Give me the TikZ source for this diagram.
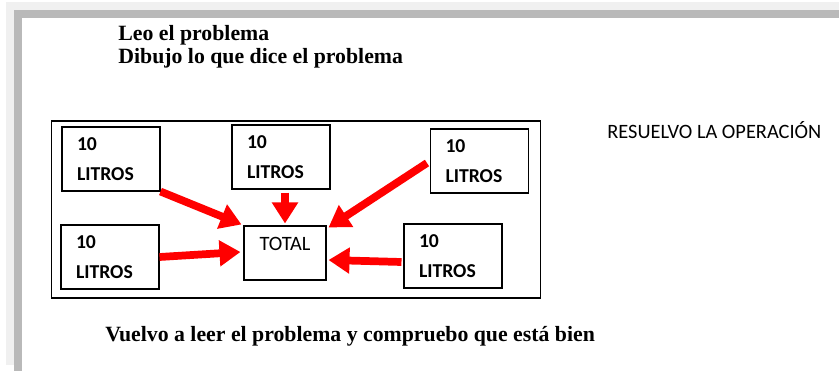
\documentclass[tikz,border=0pt]{standalone}
\usepackage{fontspec}
\setmainfont{Liberation Serif}
\newfontfamily\calibri{Carlito}
\usetikzlibrary{arrows.meta,calc,positioning}
\tikzset{>=stealth}
\tikzstyle{litros} = [draw=black, line width=0.6pt, minimum width=1.96cm,
minimum height=1.28cm, inner xsep=0.3cm, text width=1.36cm, align=left,
font=\calibri\bfseries\fontsize{11.2}{17}\selectfont]
\tikzstyle{arrow} = [draw=red, line width=4.4pt, -{Triangle[width=0.5cm,length=0.42cm]}]
\tikzstyle{texto} = [anchor=base west, inner sep=0pt, font=\bfseries\fontsize{12.4}{14}\selectfont]
\begin{document}
\begin{tikzpicture}[x=0.02cm, y=-0.02cm]
            \useasboundingbox (0,0) rectangle (839,371);
            % hoja de fondo
            \fill[gray!12] (6,2) rectangle (839,365);
            \fill[gray!55] (14,10) rectangle (839,371);
            \fill[white] (22,18) rectangle (839,371);
            \node[texto] (leo) at (118,41) {Leo el problema};
            \node[texto] (dibujo) at (118,64) {Dibujo lo que dice el problema};
            % marco del dibujo
            \node[draw=black, line width=0.6pt, minimum width=9.8cm,
            minimum height=3.54cm] (marco) at (296,209.5) {};
            \node[litros] (tl) at (111,159) {10\\LITROS};
            \node[litros] (tm) at (281,157) {10\\LITROS};
            \node[litros] (tr) at (479.5,161) {10\\LITROS};
            \node[litros] (bl) at (110,257) {10\\LITROS};
            \node[litros] (br) at (453,256) {10\\LITROS};
            \node[draw=black, line width=0.6pt, minimum width=1.64cm,
            minimum height=1.08cm] (total) at (285,253) {};
            \node[anchor=north, yshift=-0.12cm, font=\calibri\fontsize{11.6}{13}\selectfont]
            at (total.north) {TOTAL};
            \draw [arrow] (tl.south east) -- ($(total.north west)+(-2,-1)$);
            \draw [arrow] ($(tm.south)+(4,3)$) -- ($(total.north)+(0,-2)$);
            \draw [arrow] ($(tr.west)+(-3,2)$) -- ($(total.north east)+(2,2)$);
            \draw [arrow] (bl.east) -- ($(total.west)+(-3,-1)$);
            \draw [arrow] ($(br.west)+(-2,6)$) -- ($(total.east)+(2,7)$);
            \node[anchor=base west, inner sep=0pt, font=\calibri\fontsize{11.6}{13}\selectfont]
            (resuelvo) at (607,139) {RESUELVO LA OPERACIÓN};
            \node[texto] (vuelvo) at (105,342) {Vuelvo a leer el problema y compruebo que está bien};
        \end{tikzpicture}
\end{document}
